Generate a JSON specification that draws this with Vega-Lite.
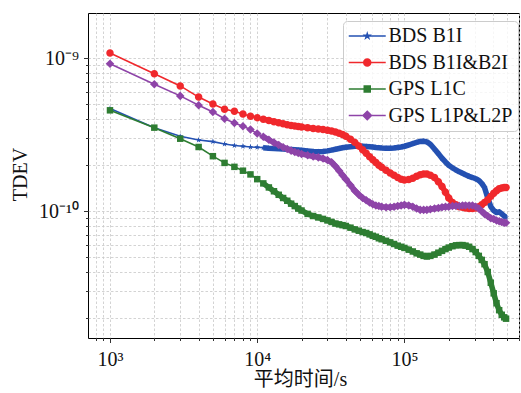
{
"$schema": "https://vega.github.io/schema/vega-lite/v6.json",
"width": 431, "height": 325,
"autosize": {"type": "none"},
"padding": {"left": 88, "top": 13, "right": 2, "bottom": 55},
"background": "white",
"config": {
  "font": "Liberation Serif",
  "style": {"guide-label": {"font": "Liberation Serif"}, "guide-title": {"font": "Liberation Serif, Noto Sans CJK SC"}},
  "view": {"stroke": "black", "strokeWidth": 1},
  "axis": {"grid": true, "gridColor": "#c8c8c8", "gridDash": [2.5, 2], "gridWidth": 0.8, "domain": false, "tickColor": "black", "tickWidth": 0.8,
    "labelFont": "Liberation Serif", "labelFontSize": 20, "labelColor": "#111", "titleFont": "Liberation Serif, Noto Sans CJK SC", "titleFontSize": 20, "titleFontWeight": "normal", "titleColor": "#111", "labelOverlap": false, "labelFlush": false},
  "legend": {"labelFont": "Liberation Serif", "labelFontSize": 20, "labelColor": "#111", "symbolSize": 342, "symbolStrokeWidth": 1.5, "symbolOpacity": 1, "rowPadding": 6.5, "padding": 5, "strokeColor": "#cccccc", "fillColor": "rgba(255,255,255,0.8)", "cornerRadius": 4, "labelOffset": 20.5}
},
"data": {"values": [
{"s":"BDS B1I","t":1000,"v":4.69e-10},{"s":"BDS B1I","t":2000,"v":3.52e-10},{"s":"BDS B1I","t":3000,"v":3.09e-10},{"s":"BDS B1I","t":4000,"v":2.92e-10},{"s":"BDS B1I","t":5000,"v":2.85e-10},{"s":"BDS B1I","t":6000,"v":2.75e-10},{"s":"BDS B1I","t":7000,"v":2.69e-10},{"s":"BDS B1I","t":8000,"v":2.66e-10},{"s":"BDS B1I","t":9000,"v":2.63e-10},{"s":"BDS B1I","t":10000,"v":2.62e-10},
{"s":"BDS B1I","t":11000,"v":2.60e-10},{"s":"BDS B1I","t":12000,"v":2.58e-10},{"s":"BDS B1I","t":13000,"v":2.57e-10},{"s":"BDS B1I","t":14000,"v":2.56e-10},{"s":"BDS B1I","t":15000,"v":2.55e-10},{"s":"BDS B1I","t":16000,"v":2.54e-10},{"s":"BDS B1I","t":17000,"v":2.53e-10},{"s":"BDS B1I","t":18000,"v":2.52e-10},{"s":"BDS B1I","t":19000,"v":2.51e-10},{"s":"BDS B1I","t":20000,"v":2.50e-10},
{"s":"BDS B1I","t":22000,"v":2.48e-10},{"s":"BDS B1I","t":24000,"v":2.46e-10},{"s":"BDS B1I","t":26000,"v":2.45e-10},{"s":"BDS B1I","t":28000,"v":2.46e-10},{"s":"BDS B1I","t":30000,"v":2.48e-10},{"s":"BDS B1I","t":32000,"v":2.51e-10},{"s":"BDS B1I","t":34000,"v":2.54e-10},{"s":"BDS B1I","t":36000,"v":2.57e-10},{"s":"BDS B1I","t":38000,"v":2.60e-10},{"s":"BDS B1I","t":40000,"v":2.62e-10},
{"s":"BDS B1I","t":43000,"v":2.64e-10},{"s":"BDS B1I","t":46000,"v":2.66e-10},{"s":"BDS B1I","t":49000,"v":2.66e-10},{"s":"BDS B1I","t":52000,"v":2.66e-10},{"s":"BDS B1I","t":55000,"v":2.65e-10},{"s":"BDS B1I","t":58000,"v":2.64e-10},{"s":"BDS B1I","t":61000,"v":2.63e-10},{"s":"BDS B1I","t":64000,"v":2.61e-10},{"s":"BDS B1I","t":67000,"v":2.60e-10},{"s":"BDS B1I","t":70000,"v":2.59e-10},
{"s":"BDS B1I","t":75000,"v":2.58e-10},{"s":"BDS B1I","t":80000,"v":2.58e-10},{"s":"BDS B1I","t":85000,"v":2.59e-10},{"s":"BDS B1I","t":90000,"v":2.61e-10},{"s":"BDS B1I","t":95000,"v":2.63e-10},{"s":"BDS B1I","t":100000,"v":2.66e-10},
{"s":"BDS B1I","t":107000,"v":2.71e-10},{"s":"BDS B1I","t":114000,"v":2.77e-10},{"s":"BDS B1I","t":121000,"v":2.82e-10},{"s":"BDS B1I","t":128000,"v":2.86e-10},{"s":"BDS B1I","t":135000,"v":2.87e-10},{"s":"BDS B1I","t":142000,"v":2.84e-10},{"s":"BDS B1I","t":150000,"v":2.74e-10},
{"s":"BDS B1I","t":160000,"v":2.55e-10},{"s":"BDS B1I","t":170000,"v":2.38e-10},{"s":"BDS B1I","t":180000,"v":2.22e-10},{"s":"BDS B1I","t":190000,"v":2.10e-10},{"s":"BDS B1I","t":200000,"v":2.00e-10},
{"s":"BDS B1I","t":212000,"v":1.92e-10},{"s":"BDS B1I","t":224000,"v":1.86e-10},{"s":"BDS B1I","t":236000,"v":1.81e-10},{"s":"BDS B1I","t":248000,"v":1.77e-10},{"s":"BDS B1I","t":260000,"v":1.73e-10},
{"s":"BDS B1I","t":275000,"v":1.69e-10},{"s":"BDS B1I","t":290000,"v":1.66e-10},{"s":"BDS B1I","t":305000,"v":1.63e-10},{"s":"BDS B1I","t":320000,"v":1.59e-10},{"s":"BDS B1I","t":335000,"v":1.52e-10},{"s":"BDS B1I","t":350000,"v":1.43e-10},
{"s":"BDS B1I","t":368000,"v":1.22e-10},{"s":"BDS B1I","t":386000,"v":1.07e-10},{"s":"BDS B1I","t":404000,"v":1.01e-10},{"s":"BDS B1I","t":422000,"v":0.98e-10},{"s":"BDS B1I","t":440000,"v":0.99e-10},{"s":"BDS B1I","t":458000,"v":0.96e-10},{"s":"BDS B1I","t":476000,"v":0.93e-10},{"s":"BDS B1I","t":490000,"v":0.91e-10},

{"s":"BDS B1I&B2I","t":1000,"v":10.83e-10},{"s":"BDS B1I&B2I","t":2000,"v":7.94e-10},{"s":"BDS B1I&B2I","t":3000,"v":6.60e-10},{"s":"BDS B1I&B2I","t":4000,"v":5.58e-10},{"s":"BDS B1I&B2I","t":5000,"v":5.03e-10},{"s":"BDS B1I&B2I","t":6000,"v":4.64e-10},{"s":"BDS B1I&B2I","t":7000,"v":4.51e-10},{"s":"BDS B1I&B2I","t":8000,"v":4.33e-10},{"s":"BDS B1I&B2I","t":9000,"v":4.18e-10},{"s":"BDS B1I&B2I","t":10000,"v":4.09e-10},
{"s":"BDS B1I&B2I","t":11000,"v":4.00e-10},{"s":"BDS B1I&B2I","t":12000,"v":3.92e-10},{"s":"BDS B1I&B2I","t":13000,"v":3.85e-10},{"s":"BDS B1I&B2I","t":14000,"v":3.79e-10},{"s":"BDS B1I&B2I","t":15000,"v":3.73e-10},{"s":"BDS B1I&B2I","t":16000,"v":3.68e-10},{"s":"BDS B1I&B2I","t":17000,"v":3.64e-10},{"s":"BDS B1I&B2I","t":18000,"v":3.61e-10},{"s":"BDS B1I&B2I","t":19000,"v":3.58e-10},{"s":"BDS B1I&B2I","t":20000,"v":3.55e-10},
{"s":"BDS B1I&B2I","t":22000,"v":3.51e-10},{"s":"BDS B1I&B2I","t":24000,"v":3.48e-10},{"s":"BDS B1I&B2I","t":26000,"v":3.45e-10},{"s":"BDS B1I&B2I","t":28000,"v":3.42e-10},{"s":"BDS B1I&B2I","t":30000,"v":3.39e-10},{"s":"BDS B1I&B2I","t":32000,"v":3.35e-10},{"s":"BDS B1I&B2I","t":34000,"v":3.30e-10},{"s":"BDS B1I&B2I","t":36000,"v":3.24e-10},{"s":"BDS B1I&B2I","t":38000,"v":3.17e-10},{"s":"BDS B1I&B2I","t":40000,"v":3.09e-10},
{"s":"BDS B1I&B2I","t":43000,"v":2.96e-10},{"s":"BDS B1I&B2I","t":46000,"v":2.82e-10},{"s":"BDS B1I&B2I","t":49000,"v":2.67e-10},{"s":"BDS B1I&B2I","t":52000,"v":2.52e-10},{"s":"BDS B1I&B2I","t":55000,"v":2.39e-10},{"s":"BDS B1I&B2I","t":58000,"v":2.27e-10},{"s":"BDS B1I&B2I","t":61000,"v":2.17e-10},{"s":"BDS B1I&B2I","t":64000,"v":2.08e-10},{"s":"BDS B1I&B2I","t":67000,"v":2.00e-10},{"s":"BDS B1I&B2I","t":70000,"v":1.94e-10},
{"s":"BDS B1I&B2I","t":75000,"v":1.85e-10},{"s":"BDS B1I&B2I","t":80000,"v":1.78e-10},{"s":"BDS B1I&B2I","t":85000,"v":1.72e-10},{"s":"BDS B1I&B2I","t":90000,"v":1.66e-10},{"s":"BDS B1I&B2I","t":95000,"v":1.62e-10},{"s":"BDS B1I&B2I","t":100000,"v":1.60e-10},
{"s":"BDS B1I&B2I","t":107000,"v":1.61e-10},{"s":"BDS B1I&B2I","t":114000,"v":1.64e-10},{"s":"BDS B1I&B2I","t":121000,"v":1.69e-10},{"s":"BDS B1I&B2I","t":128000,"v":1.73e-10},{"s":"BDS B1I&B2I","t":135000,"v":1.75e-10},{"s":"BDS B1I&B2I","t":142000,"v":1.75e-10},{"s":"BDS B1I&B2I","t":150000,"v":1.72e-10},
{"s":"BDS B1I&B2I","t":160000,"v":1.66e-10},{"s":"BDS B1I&B2I","t":170000,"v":1.56e-10},{"s":"BDS B1I&B2I","t":180000,"v":1.45e-10},{"s":"BDS B1I&B2I","t":190000,"v":1.33e-10},{"s":"BDS B1I&B2I","t":200000,"v":1.22e-10},
{"s":"BDS B1I&B2I","t":212000,"v":1.14e-10},{"s":"BDS B1I&B2I","t":224000,"v":1.10e-10},{"s":"BDS B1I&B2I","t":236000,"v":1.07e-10},{"s":"BDS B1I&B2I","t":248000,"v":1.06e-10},{"s":"BDS B1I&B2I","t":260000,"v":1.05e-10},
{"s":"BDS B1I&B2I","t":275000,"v":1.04e-10},{"s":"BDS B1I&B2I","t":290000,"v":1.04e-10},{"s":"BDS B1I&B2I","t":305000,"v":1.05e-10},{"s":"BDS B1I&B2I","t":320000,"v":1.07e-10},{"s":"BDS B1I&B2I","t":335000,"v":1.10e-10},{"s":"BDS B1I&B2I","t":350000,"v":1.14e-10},
{"s":"BDS B1I&B2I","t":368000,"v":1.19e-10},{"s":"BDS B1I&B2I","t":386000,"v":1.25e-10},{"s":"BDS B1I&B2I","t":404000,"v":1.31e-10},{"s":"BDS B1I&B2I","t":422000,"v":1.36e-10},{"s":"BDS B1I&B2I","t":440000,"v":1.40e-10},{"s":"BDS B1I&B2I","t":458000,"v":1.42e-10},{"s":"BDS B1I&B2I","t":476000,"v":1.43e-10},{"s":"BDS B1I&B2I","t":490000,"v":1.43e-10},

{"s":"GPS L1C","t":1000,"v":4.57e-10},{"s":"GPS L1C","t":2000,"v":3.52e-10},{"s":"GPS L1C","t":3000,"v":2.98e-10},{"s":"GPS L1C","t":4000,"v":2.63e-10},{"s":"GPS L1C","t":5000,"v":2.29e-10},{"s":"GPS L1C","t":6000,"v":2.07e-10},{"s":"GPS L1C","t":7000,"v":1.95e-10},{"s":"GPS L1C","t":8000,"v":1.84e-10},{"s":"GPS L1C","t":9000,"v":1.74e-10},{"s":"GPS L1C","t":10000,"v":1.62e-10},
{"s":"GPS L1C","t":11000,"v":1.52e-10},{"s":"GPS L1C","t":12000,"v":1.43e-10},{"s":"GPS L1C","t":13000,"v":1.35e-10},{"s":"GPS L1C","t":14000,"v":1.28e-10},{"s":"GPS L1C","t":15000,"v":1.22e-10},{"s":"GPS L1C","t":16000,"v":1.17e-10},{"s":"GPS L1C","t":17000,"v":1.12e-10},{"s":"GPS L1C","t":18000,"v":1.08e-10},{"s":"GPS L1C","t":19000,"v":1.04e-10},{"s":"GPS L1C","t":20000,"v":1.01e-10},
{"s":"GPS L1C","t":22000,"v":0.96e-10},{"s":"GPS L1C","t":24000,"v":0.93e-10},{"s":"GPS L1C","t":26000,"v":0.91e-10},{"s":"GPS L1C","t":28000,"v":0.89e-10},{"s":"GPS L1C","t":30000,"v":0.87e-10},{"s":"GPS L1C","t":32000,"v":0.85e-10},{"s":"GPS L1C","t":34000,"v":0.83e-10},{"s":"GPS L1C","t":36000,"v":0.82e-10},{"s":"GPS L1C","t":38000,"v":0.81e-10},{"s":"GPS L1C","t":40000,"v":0.80e-10},
{"s":"GPS L1C","t":43000,"v":0.78e-10},{"s":"GPS L1C","t":46000,"v":0.76e-10},{"s":"GPS L1C","t":49000,"v":0.745e-10},{"s":"GPS L1C","t":52000,"v":0.73e-10},{"s":"GPS L1C","t":55000,"v":0.72e-10},{"s":"GPS L1C","t":58000,"v":0.705e-10},{"s":"GPS L1C","t":61000,"v":0.69e-10},{"s":"GPS L1C","t":64000,"v":0.68e-10},{"s":"GPS L1C","t":67000,"v":0.665e-10},{"s":"GPS L1C","t":70000,"v":0.655e-10},
{"s":"GPS L1C","t":75000,"v":0.64e-10},{"s":"GPS L1C","t":80000,"v":0.625e-10},{"s":"GPS L1C","t":85000,"v":0.61e-10},{"s":"GPS L1C","t":90000,"v":0.595e-10},{"s":"GPS L1C","t":95000,"v":0.585e-10},{"s":"GPS L1C","t":100000,"v":0.575e-10},
{"s":"GPS L1C","t":107000,"v":0.56e-10},{"s":"GPS L1C","t":114000,"v":0.545e-10},{"s":"GPS L1C","t":121000,"v":0.53e-10},{"s":"GPS L1C","t":128000,"v":0.52e-10},{"s":"GPS L1C","t":135000,"v":0.51e-10},{"s":"GPS L1C","t":142000,"v":0.505e-10},{"s":"GPS L1C","t":150000,"v":0.51e-10},
{"s":"GPS L1C","t":160000,"v":0.52e-10},{"s":"GPS L1C","t":170000,"v":0.535e-10},{"s":"GPS L1C","t":180000,"v":0.55e-10},{"s":"GPS L1C","t":190000,"v":0.565e-10},{"s":"GPS L1C","t":200000,"v":0.578e-10},
{"s":"GPS L1C","t":212000,"v":0.59e-10},{"s":"GPS L1C","t":224000,"v":0.598e-10},{"s":"GPS L1C","t":236000,"v":0.60e-10},{"s":"GPS L1C","t":248000,"v":0.60e-10},{"s":"GPS L1C","t":260000,"v":0.595e-10},
{"s":"GPS L1C","t":275000,"v":0.585e-10},{"s":"GPS L1C","t":290000,"v":0.565e-10},{"s":"GPS L1C","t":305000,"v":0.54e-10},{"s":"GPS L1C","t":320000,"v":0.51e-10},{"s":"GPS L1C","t":335000,"v":0.48e-10},{"s":"GPS L1C","t":350000,"v":0.45e-10},
{"s":"GPS L1C","t":368000,"v":0.40e-10},{"s":"GPS L1C","t":386000,"v":0.34e-10},{"s":"GPS L1C","t":404000,"v":0.29e-10},{"s":"GPS L1C","t":422000,"v":0.25e-10},{"s":"GPS L1C","t":440000,"v":0.225e-10},{"s":"GPS L1C","t":458000,"v":0.21e-10},{"s":"GPS L1C","t":476000,"v":0.202e-10},{"s":"GPS L1C","t":490000,"v":0.198e-10},

{"s":"GPS L1P&L2P","t":1000,"v":9.23e-10},{"s":"GPS L1P&L2P","t":2000,"v":6.76e-10},{"s":"GPS L1P&L2P","t":3000,"v":5.68e-10},{"s":"GPS L1P&L2P","t":4000,"v":4.93e-10},{"s":"GPS L1P&L2P","t":5000,"v":4.46e-10},{"s":"GPS L1P&L2P","t":6000,"v":4.03e-10},{"s":"GPS L1P&L2P","t":7000,"v":3.78e-10},{"s":"GPS L1P&L2P","t":8000,"v":3.59e-10},{"s":"GPS L1P&L2P","t":9000,"v":3.42e-10},{"s":"GPS L1P&L2P","t":10000,"v":3.22e-10},
{"s":"GPS L1P&L2P","t":11000,"v":3.07e-10},{"s":"GPS L1P&L2P","t":12000,"v":2.93e-10},{"s":"GPS L1P&L2P","t":13000,"v":2.81e-10},{"s":"GPS L1P&L2P","t":14000,"v":2.71e-10},{"s":"GPS L1P&L2P","t":15000,"v":2.62e-10},{"s":"GPS L1P&L2P","t":16000,"v":2.55e-10},{"s":"GPS L1P&L2P","t":17000,"v":2.49e-10},{"s":"GPS L1P&L2P","t":18000,"v":2.44e-10},{"s":"GPS L1P&L2P","t":19000,"v":2.40e-10},{"s":"GPS L1P&L2P","t":20000,"v":2.37e-10},
{"s":"GPS L1P&L2P","t":22000,"v":2.32e-10},{"s":"GPS L1P&L2P","t":24000,"v":2.28e-10},{"s":"GPS L1P&L2P","t":26000,"v":2.25e-10},{"s":"GPS L1P&L2P","t":28000,"v":2.21e-10},{"s":"GPS L1P&L2P","t":30000,"v":2.16e-10},{"s":"GPS L1P&L2P","t":32000,"v":2.09e-10},{"s":"GPS L1P&L2P","t":34000,"v":1.97e-10},{"s":"GPS L1P&L2P","t":36000,"v":1.84e-10},{"s":"GPS L1P&L2P","t":38000,"v":1.72e-10},{"s":"GPS L1P&L2P","t":40000,"v":1.62e-10},
{"s":"GPS L1P&L2P","t":43000,"v":1.48e-10},{"s":"GPS L1P&L2P","t":46000,"v":1.36e-10},{"s":"GPS L1P&L2P","t":49000,"v":1.28e-10},{"s":"GPS L1P&L2P","t":52000,"v":1.22e-10},{"s":"GPS L1P&L2P","t":55000,"v":1.18e-10},{"s":"GPS L1P&L2P","t":58000,"v":1.14e-10},{"s":"GPS L1P&L2P","t":61000,"v":1.11e-10},{"s":"GPS L1P&L2P","t":64000,"v":1.09e-10},{"s":"GPS L1P&L2P","t":67000,"v":1.08e-10},{"s":"GPS L1P&L2P","t":70000,"v":1.07e-10},
{"s":"GPS L1P&L2P","t":75000,"v":1.06e-10},{"s":"GPS L1P&L2P","t":80000,"v":1.06e-10},{"s":"GPS L1P&L2P","t":85000,"v":1.07e-10},{"s":"GPS L1P&L2P","t":90000,"v":1.08e-10},{"s":"GPS L1P&L2P","t":95000,"v":1.09e-10},{"s":"GPS L1P&L2P","t":100000,"v":1.10e-10},
{"s":"GPS L1P&L2P","t":107000,"v":1.09e-10},{"s":"GPS L1P&L2P","t":114000,"v":1.07e-10},{"s":"GPS L1P&L2P","t":121000,"v":1.04e-10},{"s":"GPS L1P&L2P","t":128000,"v":1.02e-10},{"s":"GPS L1P&L2P","t":135000,"v":1.02e-10},{"s":"GPS L1P&L2P","t":142000,"v":1.02e-10},{"s":"GPS L1P&L2P","t":150000,"v":1.03e-10},
{"s":"GPS L1P&L2P","t":160000,"v":1.04e-10},{"s":"GPS L1P&L2P","t":170000,"v":1.05e-10},{"s":"GPS L1P&L2P","t":180000,"v":1.06e-10},{"s":"GPS L1P&L2P","t":190000,"v":1.07e-10},{"s":"GPS L1P&L2P","t":200000,"v":1.07e-10},
{"s":"GPS L1P&L2P","t":212000,"v":1.08e-10},{"s":"GPS L1P&L2P","t":224000,"v":1.08e-10},{"s":"GPS L1P&L2P","t":236000,"v":1.08e-10},{"s":"GPS L1P&L2P","t":248000,"v":1.09e-10},{"s":"GPS L1P&L2P","t":260000,"v":1.09e-10},
{"s":"GPS L1P&L2P","t":275000,"v":1.09e-10},{"s":"GPS L1P&L2P","t":290000,"v":1.09e-10},{"s":"GPS L1P&L2P","t":305000,"v":1.07e-10},{"s":"GPS L1P&L2P","t":320000,"v":1.04e-10},{"s":"GPS L1P&L2P","t":335000,"v":1.00e-10},{"s":"GPS L1P&L2P","t":350000,"v":0.96e-10},
{"s":"GPS L1P&L2P","t":368000,"v":0.93e-10},{"s":"GPS L1P&L2P","t":386000,"v":0.90e-10},{"s":"GPS L1P&L2P","t":404000,"v":0.89e-10},{"s":"GPS L1P&L2P","t":422000,"v":0.87e-10},{"s":"GPS L1P&L2P","t":440000,"v":0.86e-10},{"s":"GPS L1P&L2P","t":458000,"v":0.85e-10},{"s":"GPS L1P&L2P","t":476000,"v":0.84e-10},{"s":"GPS L1P&L2P","t":490000,"v":0.84e-10}
]},
"encoding": {
  "x": {"field": "t", "type": "quantitative",
    "scale": {"type": "log", "domain": [709, 600000], "nice": false},
    "axis": {"title": "平均时间/s", "labelFont": "Liberation Serif", "titleFont": "Liberation Serif, Noto Sans CJK SC",
      "values": [800,900,1000,2000,3000,4000,5000,6000,7000,8000,9000,10000,20000,30000,40000,50000,60000,70000,80000,90000,100000,200000,300000,400000,500000,600000],
      "labelExpr": "datum.value == 1000 ? '10³' : datum.value == 10000 ? '10⁴' : datum.value == 100000 ? '10⁵' : ''",
      "tickSize": {"condition": {"test": "datum.value == 1000 || datum.value == 10000 || datum.value == 100000", "value": 4.5}, "value": 2.5},
      "labelPadding": 7, "titleX": 212, "titleY": 47, "titleBaseline": "alphabetic", "titleAlign": "center"}},
  "y": {"field": "v", "type": "quantitative",
    "scale": {"type": "log", "domain": [1.48e-11, 1.98e-9], "nice": false},
    "axis": {"title": "TDEV", "labelFont": "Liberation Serif", "titleFont": "Liberation Serif",
      "values": [2e-11,3e-11,4e-11,5e-11,6e-11,7e-11,8e-11,9e-11,1e-10,2e-10,3e-10,4e-10,5e-10,6e-10,7e-10,8e-10,9e-10,1e-9],
      "labelExpr": "abs(datum.value - 1e-9) < 1e-13 ? '10⁻⁹' : abs(datum.value - 1e-10) < 1e-14 ? '10⁻¹⁰' : ''",
      "tickSize": {"condition": {"test": "abs(datum.value - 1e-9) < 1e-13 || abs(datum.value - 1e-10) < 1e-14", "value": 4.5}, "value": 2.5},
      "labelPadding": 5, "titleX": -68, "titleY": 161, "titleAngle": -90, "titleBaseline": "middle", "titleAlign": "center"}}
},
"layer": [
  {"mark": {"type": "line", "strokeWidth": 1.6},
   "encoding": {"color": {"field": "s", "type": "nominal", "scale": {"domain": ["BDS B1I","BDS B1I&B2I","GPS L1C","GPS L1P&L2P"], "range": ["#2451b2","#f0282c","#2e7d32","#8e44a8"]}, "legend": null}}},
  {"transform": [{"filter": "datum.t >= 11000"}],
   "mark": {"type": "line", "strokeWidth": 5.5, "strokeJoin": "round"},
   "encoding": {"color": {"field": "s", "type": "nominal", "scale": {"domain": ["BDS B1I","BDS B1I&B2I","GPS L1C","GPS L1P&L2P"], "range": ["#2451b2","#f0282c","#2e7d32","#8e44a8"]}, "legend": null}}},
  {"mark": {"type": "point", "filled": true, "opacity": 1, "size": 81, "strokeWidth": 0},
   "encoding": {
     "color": {"field": "s", "type": "nominal", "scale": {"domain": ["BDS B1I","BDS B1I&B2I","GPS L1C","GPS L1P&L2P"], "range": ["#2451b2","#f0282c","#2e7d32","#8e44a8"]}, "legend": null},
     "shape": {"field": "s", "type": "nominal", "scale": {"domain": ["BDS B1I","BDS B1I&B2I","GPS L1C","GPS L1P&L2P"], "range": [
       "M0,-0.7L0.1564,-0.2152L0.6658,-0.2163L0.253,0.0822L0.4115,0.5663L0,0.266L-0.4115,0.5663L-0.253,0.0822L-0.6658,-0.2163L-0.1564,-0.2152Z",
       "M0.83,0A0.83,0.83,0,1,1,-0.83,0A0.83,0.83,0,1,1,0.83,0Z",
       "M-0.72,-0.72H0.72V0.72H-0.72Z",
       "M0,-0.95L0.95,0L0,0.95L-0.95,0Z"]}, "legend": null}}},
  {"mark": {"type": "point", "filled": true, "opacity": 0},
   "encoding": {
     "color": {"field": "s", "type": "nominal", "scale": {"domain": ["BDS B1I","BDS B1I&B2I","GPS L1C","GPS L1P&L2P"], "range": ["#2451b2","#f0282c","#2e7d32","#8e44a8"]}, "legend": {"title": null, "orient": "none", "legendX": 255, "legendY": 8, "symbolSize": 342, "symbolOpacity": 1, "labelFont": "Liberation Serif", "labelOffset": 20.5}},
     "stroke": {"field": "s", "type": "nominal", "scale": {"domain": ["BDS B1I","BDS B1I&B2I","GPS L1C","GPS L1P&L2P"], "range": ["#2451b2","#f0282c","#2e7d32","#8e44a8"]}, "legend": {"title": null, "orient": "none", "legendX": 255, "legendY": 8, "symbolSize": 342, "symbolOpacity": 1, "labelFont": "Liberation Serif", "labelOffset": 20.5}},
     "shape": {"field": "s", "type": "nominal", "scale": {"domain": ["BDS B1I","BDS B1I&B2I","GPS L1C","GPS L1P&L2P"], "range": [
       "M-1,0H3M1,-0.27L1.0603,-0.083L1.2568,-0.0834L1.0976,0.0317L1.1587,0.2184L1,0.1026L0.8413,0.2184L0.9024,0.0317L0.7432,-0.0834L0.9397,-0.083Z",
       "M-1,0H3M1.378,0A0.378,0.378,0,1,1,0.622,0A0.378,0.378,0,1,1,1.378,0Z",
       "M-1,0H3M0.676,-0.324H1.324V0.324H0.676Z",
       "M-1,0H3M1,-0.46L1.46,0L1,0.46L0.54,0Z"]}, "legend": {"title": null, "orient": "none", "legendX": 255, "legendY": 8, "symbolSize": 342, "symbolOpacity": 1, "labelFont": "Liberation Serif", "labelOffset": 20.5}}}}
],
"resolve": {"scale": {"color": "independent", "shape": "independent", "stroke": "independent"}}
}
